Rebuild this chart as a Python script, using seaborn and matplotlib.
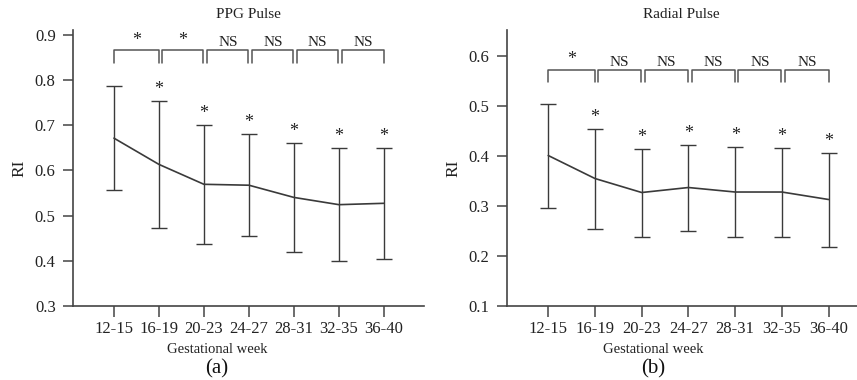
import numpy as np
import pandas as pd
import matplotlib
matplotlib.use("Agg")
import matplotlib.pyplot as plt
import seaborn as sns

weeks = ["12-15", "16-19", "20-23", "24-27", "28-31", "32-35", "36-40"]

ppg_mean = [0.671, 0.613, 0.569, 0.567, 0.540, 0.524, 0.527]
ppg_sd = [0.115, 0.140, 0.131, 0.113, 0.120, 0.125, 0.122]
ppg_star = [False, True, True, True, True, True, True]
ppg_pairs = ["*", "*", "NS", "NS", "NS", "NS"]

rad_mean = [0.401, 0.355, 0.327, 0.337, 0.328, 0.328, 0.313]
rad_sd = [0.104, 0.100, 0.088, 0.086, 0.090, 0.089, 0.094]
rad_star = [False, True, True, True, True, True, True]
rad_pairs = ["*", "NS", "NS", "NS", "NS", "NS"]

sns.set_theme(style="ticks")
plt.rcParams["font.family"] = ["Liberation Serif", "DejaVu Serif"]

fig = plt.figure(figsize=(8.57, 3.80), dpi=100)
ax1 = fig.add_axes([0.0852, 0.1947, 0.4095, 0.7263])
ax2 = fig.add_axes([0.5912, 0.1947, 0.4084, 0.7263])

C = "#3a3a3a"


def panel(ax, mean, sd, star, pairs, title, ylim, yticks, xlim, brk_top, brk_drop,
          lab_frac, letter):
    df = pd.DataFrame({"x": np.arange(len(weeks)), "RI": mean, "sd": sd})
    sns.lineplot(data=df, x="x", y="RI", ax=ax, color=C, lw=1.2, marker=None)
    ax.errorbar(df["x"], df["RI"], yerr=df["sd"], fmt="none", ecolor=C,
                elinewidth=1.0, capsize=5.5, capthick=1.0)
    rng = ylim[1] - ylim[0]
    for i, s in enumerate(star):
        if s:
            ax.text(i, mean[i] + sd[i] + 0.006 * rng / 0.61, "*", ha="center",
                    va="bottom", fontsize=13, color="#222222")
    for i, lab in enumerate(pairs):
        x0 = i + (0.07 if i > 0 else 0.0)
        x1 = i + 1 - (0.01 if i < len(pairs) - 1 else 0.0)
        ax.plot([x0, x0, x1, x1], [brk_top - brk_drop, brk_top, brk_top, brk_top - brk_drop],
                color="#555555", lw=1.1, clip_on=False)
        if lab == "*":
            ax.text((x0 + x1) / 2, brk_top + 0.004 * rng / 0.61, "*", ha="center",
                    va="bottom", fontsize=13, color="#222222")
        else:
            ax.text((x0 + x1) / 2, brk_top + 0.002 * rng / 0.61, lab, ha="center",
                    va="bottom", fontsize=11, color="#222222")
    ax.set_xlim(*xlim)
    ax.set_ylim(*ylim)
    ax.set_yticks(yticks)
    ax.set_yticklabels([f"{t:.1f}" for t in yticks])
    ax.set_xticks(np.arange(len(weeks)))
    ax.set_xticklabels(weeks)
    ax.tick_params(axis="both", labelsize=12, colors="#444444", labelcolor="#222222",
                   width=1.1)
    ax.tick_params(axis="y", length=7.5, pad=5)
    ax.tick_params(axis="x", length=8, pad=3)
    sns.despine(ax=ax)
    for sp in ["left", "bottom"]:
        ax.spines[sp].set_color("#444444")
        ax.spines[sp].set_linewidth(1.2)
    ax.set_title(title, fontsize=11, color="#222222", pad=9)
    ax.set_xlabel("Gestational week", fontsize=10.5, color="#222222", labelpad=1)
    ax.xaxis.set_label_coords(lab_frac, -0.135)
    ax.set_ylabel("RI", fontsize=12.5, color="#222222", labelpad=5)
    ax.text(lab_frac, -0.228, letter, transform=ax.transAxes, ha="center", va="center",
            fontsize=15, color="#111111")


panel(ax1, ppg_mean, ppg_sd, ppg_star, ppg_pairs, "PPG Pulse", (0.3, 0.91),
      [0.3, 0.4, 0.5, 0.6, 0.7, 0.8, 0.9], (-0.91, 6.89), 0.865, 0.027, 0.41, "(a)")
panel(ax2, rad_mean, rad_sd, rad_star, rad_pairs, "Radial Pulse", (0.1, 0.652),
      [0.1, 0.2, 0.3, 0.4, 0.5, 0.6], (-0.89, 6.6), 0.573, 0.024, 0.42, "(b)")

fig.savefig("out.png", dpi=100)
